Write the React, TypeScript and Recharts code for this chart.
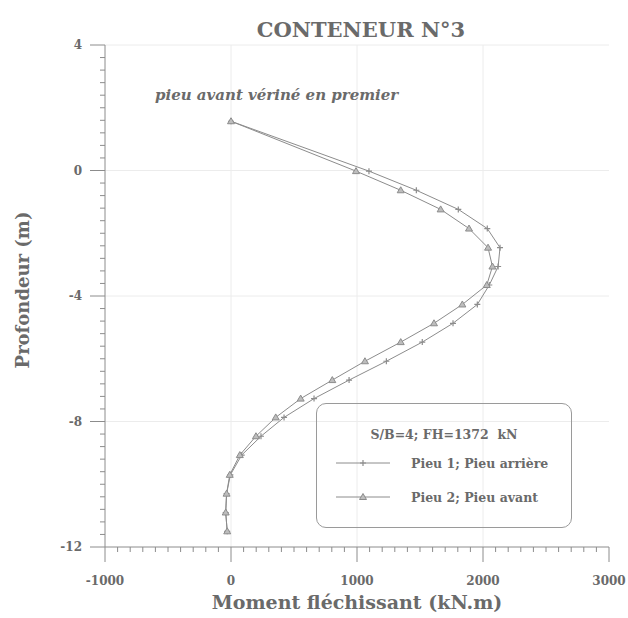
import React from 'react';
import { ScatterChart, Scatter, XAxis, YAxis, ReferenceLine, Legend } from 'recharts';

// depth (m) of each measurement point, shared by both piles
const depths = [1.57, -0.02, -0.63, -1.24, -1.85, -2.46, -3.06, -3.65, -4.27, -4.87, -5.47, -6.08, -6.68, -7.27, -7.87, -8.47, -9.07, -9.7, -10.3, -10.9, -11.5];
// bending moment (kN.m)
const pieu1 = [0, 1095, 1471, 1804, 2034, 2135, 2120, 2050, 1955, 1762, 1518, 1233, 937, 659, 421, 238, 85, -5, -35, -42, -30];
const pieu2 = [0, 992, 1347, 1664, 1889, 2040, 2075, 2030, 1836, 1611, 1347, 1063, 804, 553, 355, 198, 70, -10, -35, -42, -30];

const xMajor = [-1000, 0, 1000, 2000, 3000];
const yMajor = [4, 0, -4, -8, -12];
const xTicks = Array.from({ length: 41 }, (_, i) => -1000 + i * 100);
const yTicks = Array.from({ length: 41 }, (_, i) => Math.round((-12 + i * 0.4) * 10) / 10);

const serie1 = depths.map((d, i) => ({ m: pieu1[i], z: d }));
const serie2 = depths.map((d, i) => ({ m: pieu2[i], z: d }));

const grey = '#8c8c8c';
const textGrey = '#6a6a6a';
const serif = '"DejaVu Serif", serif';

const XTick = ({ x, y, payload }: any) => {
  const major = xMajor.includes(payload.value);
  return (
    <g>
      <line x1={x} y1={y} x2={x} y2={y + (major ? 15 : 5)} stroke={grey} />
      {major && (
        <text x={x} y={y + 38} textAnchor="middle" fontFamily={serif} fontWeight="bold" fontSize={12} fill={textGrey}>
          {payload.value}
        </text>
      )}
    </g>
  );
};

const YTick = ({ x, y, payload }: any) => {
  const major = yMajor.includes(payload.value);
  return (
    <g>
      <line x1={x} y1={y} x2={x - (major ? 15 : 5)} y2={y} stroke={grey} />
      {major && (
        <text x={x - 23} y={y + 4} textAnchor="end" fontFamily={serif} fontWeight="bold" fontSize={12} fill={textGrey}>
          {payload.value}
        </text>
      )}
    </g>
  );
};

const CrossMark = ({ cx, cy }: any) => (
  <path d={`M${cx - 3},${cy}H${cx + 3}M${cx},${cy - 3}V${cy + 3}`} stroke={grey} strokeWidth={1.2} fill="none" />
);

const TriangleMark = ({ cx, cy }: any) => (
  <path d={`M${cx},${cy - 3.5}L${cx + 3.5},${cy + 2.5}L${cx - 3.5},${cy + 2.5}Z`} stroke={grey} strokeWidth={1} fill="#bdbdbd" />
);

const LegendBox = () => (
  <div
    style={{
      width: 256,
      height: 125,
      border: '1.5px solid #9a9a9a',
      borderRadius: 10,
      fontFamily: serif,
      fontWeight: 'bold',
      fontSize: 12.5,
      color: textGrey,
      boxSizing: 'border-box',
      position: 'relative',
    }}
  >
    <div style={{ position: 'absolute', top: 23, left: 0, width: '100%', textAlign: 'center' }}>S/B=4; FH=1372&nbsp; kN</div>
    {[
      { label: 'Pieu 1; Pieu arrière', mark: 'cross', top: 59 },
      { label: 'Pieu 2; Pieu avant', mark: 'tri', top: 93 },
    ].map((row) => (
      <div key={row.label} style={{ position: 'absolute', top: row.top - 8, left: 18, display: 'flex', alignItems: 'center' }}>
        <svg width={56} height={16}>
          <line x1={1} y1={8} x2={55} y2={8} stroke={grey} />
          {row.mark === 'cross' ? <CrossMark cx={28} cy={8} /> : <TriangleMark cx={28} cy={8} />}
        </svg>
        <span style={{ marginLeft: 20 }}>{row.label}</span>
      </div>
    ))}
  </div>
);

export default function App() {
  return (
    <div style={{ position: 'absolute', left: 0, top: 0, width: 628, height: 618, background: '#fff' }}>
      <div
        style={{
          position: 'absolute',
          top: 17,
          left: 0,
          width: 722,
          textAlign: 'center',
          fontFamily: serif,
          fontWeight: 'bold',
          fontSize: 21,
          color: textGrey,
          zIndex: 2,
        }}
      >
        CONTENEUR N°3
      </div>
      <div
        style={{
          position: 'absolute',
          top: 86,
          left: 155,
          fontFamily: serif,
          fontWeight: 'bold',
          fontStyle: 'italic',
          fontSize: 15,
          color: textGrey,
          zIndex: 2,
        }}
      >
        pieu avant vériné en premier
      </div>
      <ScatterChart width={628} height={618} margin={{ top: 45, right: 19, bottom: 31, left: 25 }}>
        {[0, 1000, 2000].map((v) => (
          <ReferenceLine key={'x' + v} x={v} stroke="#ececec" />
        ))}
        {[4, 0, -4, -8].map((v) => (
          <ReferenceLine key={'y' + v} y={v} stroke="#ececec" />
        ))}
        <XAxis
          type="number"
          dataKey="m"
          domain={[-1000, 3000]}
          ticks={xTicks}
          interval={0}
          height={40}
          tickSize={0}
          tickMargin={0}
          tickLine={false}
          tick={<XTick />}
          axisLine={{ stroke: grey }}
          label={{
            content: ({ viewBox }: any) => (
              <text
                x={viewBox.x + viewBox.width / 2}
                y={viewBox.y + viewBox.height + 22}
                textAnchor="middle"
                fontFamily={serif}
                fontWeight="bold"
                fontSize={19}
                fill={textGrey}
              >
                Moment fléchissant (kN.m)
              </text>
            ),
          }}
        />
        <YAxis
          type="number"
          dataKey="z"
          domain={[-12, 4]}
          ticks={yTicks}
          interval={0}
          width={80}
          tickSize={0}
          tickMargin={0}
          tickLine={false}
          tick={<YTick />}
          axisLine={{ stroke: grey }}
          label={{
            content: () => (
              <text
                x={29}
                y={290}
                transform="rotate(-90 29 290)"
                textAnchor="middle"
                fontFamily={serif}
                fontWeight="bold"
                fontSize={18}
                fill={textGrey}
              >
                Profondeur (m)
              </text>
            ),
          }}
        />
        <Legend
          verticalAlign="middle"
          align="center"
          layout="horizontal"
          wrapperStyle={{ left: 316, top: 403, width: 258, height: 127 }}
          content={() => <LegendBox />}
        />
        <Scatter
          name="Pieu 1; Pieu arrière"
          data={serie1}
          line={{ stroke: grey, strokeWidth: 1 }}
          lineType="joint"
          shape={<CrossMark />}
          isAnimationActive={false}
        />
        <Scatter
          name="Pieu 2; Pieu avant"
          data={serie2}
          line={{ stroke: grey, strokeWidth: 1 }}
          lineType="joint"
          shape={<TriangleMark />}
          isAnimationActive={false}
        />
      </ScatterChart>
    </div>
  );
}
